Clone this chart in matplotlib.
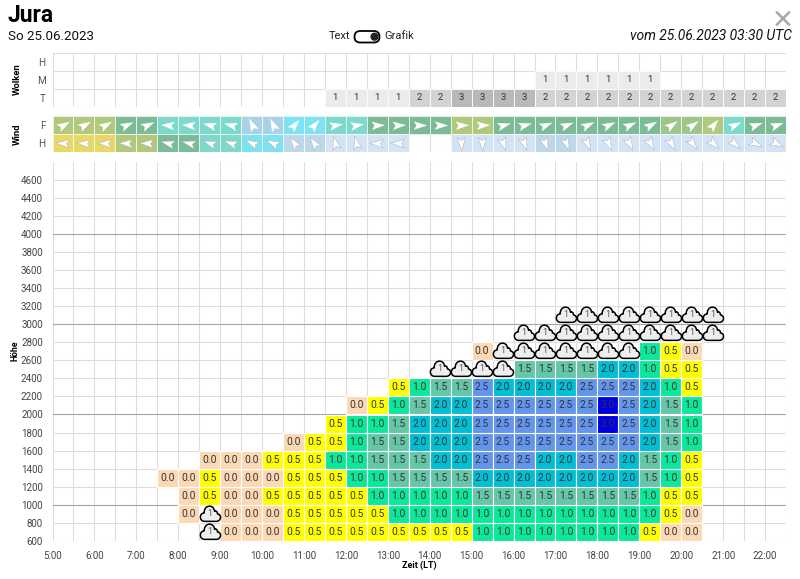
import matplotlib
matplotlib.use("Agg")
import matplotlib.pyplot as plt
from matplotlib.markers import MarkerStyle
from matplotlib.patches import FancyBboxPatch, Circle
from matplotlib.path import Path
from matplotlib.transforms import Affine2D

plt.rcParams['font.family'] = ['Roboto', 'DejaVu Sans']

# half hour columns, col 0 is 5:00-5:30
COL_HOURS = 0.5
START_HOUR = 5
NCOLS = 35
ROW_HEIGHT = 200

# thermik table, per row: first column and values ("c" = cloud symbol)
heights = [600, 800, 1000, 1200, 1400, 1600, 1800, 2000, 2200, 2400, 2600, 2800, 3000]
first_cols = [7, 6, 6, 5, 7, 11, 13, 14, 16, 18, 20, 22, 24]
row_600 = ["c", 0.0, 0.0, 0.0, 0.5, 0.5, 0.5, 0.5, 0.5, 0.5, 0.5, 0.5, 0.5, 1.0, 1.0, 1.0, 1.0, 1.0, 1.0, 1.0, 1.0, 0.5, 0.0, 0.0]
row_800 = [0.0, "c", 0.0, 0.0, 0.0, 0.5, 0.5, 0.5, 0.5, 0.5, 1.0, 1.0, 1.0, 1.0, 1.0, 1.0, 1.0, 1.0, 1.0, 1.0, 1.0, 1.0, 1.0, 0.5, 0.0]
row_1000 = [0.0, 0.5, 0.0, 0.0, 0.5, 0.5, 0.5, 0.5, 0.5, 1.0, 1.0, 1.0, 1.0, 1.0, 1.5, 1.5, 1.5, 1.5, 1.5, 1.5, 1.5, 1.5, 1.0, 0.5, 0.5]
row_1200 = [0.0, 0.0, 0.5, 0.0, 0.0, 0.0, 0.5, 0.5, 0.5, 1.0, 1.0, 1.5, 1.5, 1.5, 1.5, 2.0, 2.0, 2.0, 2.0, 2.0, 2.0, 2.0, 2.0, 1.5, 1.0, 0.5]
row_1400 = [0.0, 0.0, 0.0, 0.5, 0.5, 0.5, 1.0, 1.0, 1.5, 1.5, 1.5, 2.0, 2.0, 2.5, 2.5, 2.5, 2.0, 2.0, 2.5, 2.5, 2.0, 1.5, 1.0, 0.5]
row_1600 = [0.0, 0.5, 0.5, 1.0, 1.5, 1.5, 2.0, 2.0, 2.0, 2.5, 2.5, 2.5, 2.5, 2.5, 2.5, 2.5, 2.5, 2.0, 1.5, 1.0]
row_1800 = [0.5, 1.0, 1.0, 1.5, 2.0, 2.0, 2.0, 2.5, 2.5, 2.5, 2.5, 2.5, 2.5, 3.0, 2.5, 2.0, 1.5, 1.0]
row_2000 = [0.0, 0.5, 1.0, 1.5, 2.0, 2.0, 2.5, 2.5, 2.5, 2.5, 2.5, 2.5, 3.0, 2.5, 2.0, 1.5, 1.0]
row_2200 = [0.5, 1.0, 1.5, 1.5, 2.5, 2.0, 2.0, 2.0, 2.0, 2.5, 2.5, 2.5, 2.0, 1.0, 0.5]
row_2400 = ["c", "c", "c", "c", 1.5, 1.5, 1.5, 1.5, 2.0, 2.0, 1.0, 0.5, 0.5]
row_2600 = [0.0, "c", "c", "c", "c", "c", "c", "c", 1.0, 0.5, 0.0]
row_2800 = ["c", "c", "c", "c", "c", "c", "c", "c", "c", "c"]
row_3000 = ["c", "c", "c", "c", "c", "c", "c", "c"]
rows = [row_600, row_800, row_1000, row_1200, row_1400, row_1600, row_1800,
        row_2000, row_2200, row_2400, row_2600, row_2800, row_3000]

climb_colors = {0.0: "#fcd9b4", 0.5: "#ffff00", 1.0: "#0ce89a", 1.5: "#66c6a8",
                2.0: "#00bfd4", 2.5: "#6495ed", 3.0: "#0000e6"}

# clouds
cloud_labels = ["H", "M", "T"]
cloud_mid_first = 23
cloud_mid = [1, 1, 1, 1, 1, 1]
cloud_low_first = 13
cloud_low = [1, 1, 1, 1, 2, 2, 3, 3, 3, 3, 2, 2, 2, 2, 2, 2, 2, 2, 2, 2, 2, 2]
cloud_colors = {1: "#ebebeb", 2: "#d3d3d3", 3: "#b9b9b9"}

# wind
wind_labels = ["F", "H"]
G = "#7cbb98"; O = "#b1c97c"; T = "#7dd9cc"; C = "#7de3f2"; B = "#a9d1e8"
Y = "#e8d964"; L = "#bcd9ec"; P = "#d2e4f5"
wind_f_colors = [O, O, O, G, G, T, T, T, T, B, B, C, C, T, T, G, G, G, G, O, O,
                 G, G, G, G, G, G, G, G, "#9cc68a", "#9cc68a", O, T, G, G]
wind_f_angles = [30, 30, 30, 25, 25, 175, 175, 165, 165, 115, 115, 50, 50, 10, 10, 3, 3, 0, 0, 2, 2,
                 15, 15, 22, 22, 25, 25, 25, 30, 35, 35, 50, 25, 20, 20]
wind_h_colors = [Y, Y, Y, O, O, G, G, T, T, C, C, L, L, P, P, P, P, None, None,
                 P, P, P, P, L, L, P, P, P, P, P, P, P, P, P, P]
wind_h_angles = [178, 178, 178, 178, 178, 165, 165, 160, 160, 155, 155, 125, 125, 105, 105, 178, 178, None, None,
                 -88, -88, -72, -72, -70, -70, -65, -65, -62, -60, -60, -52, -45, -40, -25, -25]

hour_ticks = list(range(5, 23))
height_ticks = list(range(600, 4801, 200))
major_heights = [1000, 2000, 3000, 4000]


def col_x(col):
    return START_HOUR + col * COL_HOURS


cloud_marker = Path(
    [(-0.55, -0.65), (0.55, -0.65),
     (1.0, -0.65), (1.12, -0.02), (0.66, 0.05),
     (0.66, 0.3), (0.48, 0.4), (0.38, 0.3),
     (0.35, 0.98), (-0.62, 0.98), (-0.6, 0.15),
     (-1.1, 0.12), (-1.08, -0.65), (-0.55, -0.65),
     (-0.55, -0.65)],
    [Path.MOVETO, Path.LINETO,
     Path.CURVE4, Path.CURVE4, Path.CURVE4,
     Path.CURVE4, Path.CURVE4, Path.CURVE4,
     Path.CURVE4, Path.CURVE4, Path.CURVE4,
     Path.CURVE4, Path.CURVE4, Path.CURVE4,
     Path.CLOSEPOLY])
arrow_shape = Path([(1, 0), (-0.75, 0.55), (-0.4, 0), (-0.75, -0.55), (1, 0)],
                   [Path.MOVETO, Path.LINETO, Path.LINETO, Path.LINETO, Path.CLOSEPOLY])

W, H = 800, 579
fig = plt.figure(figsize=(W / 100, H / 100), dpi=100, facecolor="white")


def axes_px(left, top, right, bottom):
    return fig.add_axes([left / W, 1 - bottom / H, (right - left) / W, (bottom - top) / H])


def setup_grid(ax, ylim):
    ax.set_xlim(START_HOUR, col_x(NCOLS))
    ax.set_ylim(*ylim)
    ax.set_xticks([col_x(c) for c in range(NCOLS + 1)])
    ax.tick_params(length=0)
    ax.grid(True, color="#dddddd", linewidth=0.75)
    ax.set_axisbelow(True)
    for s in ax.spines.values():
        s.set_visible(False)


def row_labels(ax, labels):
    ax.set_yticks([i + 0.5 for i in range(len(labels))])
    ax.set_yticklabels(labels[::-1], fontsize=7.2, color="#555555")
    ax.yaxis.grid(False)
    ax.tick_params(axis="y", pad=5)
    for i in range(len(labels) + 1):
        ax.axhline(i, color="#dddddd", linewidth=0.75, zorder=0)


# wolken
ax_c = axes_px(52.5, 52.5, 786, 106.5)
setup_grid(ax_c, (0, 3))
ax_c.set_xticklabels([])
row_labels(ax_c, cloud_labels)
for y, first, vals in [(1, cloud_mid_first, cloud_mid), (0, cloud_low_first, cloud_low)]:
    xs = [col_x(first + i) for i in range(len(vals))]
    ax_c.bar(xs, [1] * len(vals), width=COL_HOURS, bottom=y, align="edge",
             color=[cloud_colors[v] for v in vals], edgecolor="white", linewidth=0.6, zorder=2)
    for x, v in zip(xs, vals):
        ax_c.text(x + COL_HOURS / 2, y + 0.5, str(v), ha="center", va="center",
                  fontsize=6.8, color="#333333", zorder=3)

# wind
ax_w = axes_px(52.5, 116, 786, 152)
setup_grid(ax_w, (0, 2))
ax_w.set_xticklabels([])
row_labels(ax_w, wind_labels)
for y, colors, angles, edge in [(1, wind_f_colors, wind_f_angles, "none"),
                                (0, wind_h_colors, wind_h_angles, "#b5b5b5")]:
    for i, (col, ang) in enumerate(zip(colors, angles)):
        if col is None:
            continue
        ax_w.bar(col_x(i), 1, width=COL_HOURS, bottom=y, align="edge", color=col,
                 edgecolor="white", linewidth=0.5, zorder=2)
        m = MarkerStyle(arrow_shape, transform=Affine2D().rotate_deg(ang))
        ax_w.plot(col_x(i) + COL_HOURS / 2, y + 0.5, marker=m, ms=11, mfc="white",
                  mec=edge, mew=0.4, ls="none", zorder=3)

# thermik
ax = axes_px(52.5, 161.5, 786, 541)
setup_grid(ax, (600, 4800))
ax.set_yticks(height_ticks)
ax.set_yticklabels([str(h) if h < 4800 else "" for h in height_ticks], fontsize=7, color="#444444")
ax.tick_params(axis="y", pad=7)
ax.set_xticks(hour_ticks)
ax.set_xticklabels(["%d:00" % h for h in hour_ticks], fontsize=7, color="#444444")
ax.set_xticks([col_x(c) for c in range(NCOLS + 1)], minor=True)
ax.tick_params(axis="x", which="both", length=0, pad=7)
ax.grid(True, which="both", color="#dddddd", linewidth=0.75)
for h in major_heights:
    ax.axhline(h, color="#a8a8a8", linewidth=0.8, zorder=1)

for h, first, vals in zip(heights, first_cols, rows):
    for i, v in enumerate(vals):
        x = col_x(first + i)
        xc = x + COL_HOURS / 2
        yc = h + ROW_HEIGHT / 2
        if v == "c":
            ax.scatter([xc], [yc], marker=cloud_marker, s=290, facecolor="#eeeeee",
                       edgecolor="black", linewidth=1.1, zorder=4, clip_on=False)
            ax.text(xc, yc + 5, "1", ha="center", va="center", fontsize=6.3, color="#555555", zorder=5)
        else:
            ax.bar(x, ROW_HEIGHT, width=COL_HOURS, bottom=h, align="edge", color=climb_colors[v],
                   edgecolor="white", linewidth=0.8, zorder=2)
            ax.text(xc, yc, "%.1f" % v, ha="center", va="center", fontsize=7.4,
                    color="#333333", zorder=3)

# header overlay in pixel coordinates
top = fig.add_axes([0, 0, 1, 1], zorder=-1)
top.set_xlim(0, W)
top.set_ylim(H, 0)
top.axis("off")
top.text(8, 15, "Jura", fontsize=16.5, fontweight="bold", va="center", color="black")
top.text(8, 36, "So 25.06.2023", fontsize=9.6, va="center", color="#111111")
top.text(792, 36, "vom 25.06.2023 03:30 UTC", fontsize=10, style="italic", ha="right", va="center", color="#111111")
top.text(329, 36, "Text", fontsize=8, va="center", color="#222222")
top.text(384, 36, "Grafik", fontsize=8, va="center", color="#222222")
top.add_patch(FancyBboxPatch((354.5, 31), 25, 11.5, boxstyle="round,pad=0,rounding_size=5.7",
                             facecolor="white", edgecolor="black", linewidth=1.3))
top.add_patch(Circle((374.5, 36.7), 3.4, color="#222222"))
top.plot([777, 789], [12.5, 24.5], color="#a8a8a8", lw=1.8)
top.plot([789, 777], [12.5, 24.5], color="#a8a8a8", lw=1.8)
top.text(17, 79, "Wolken", fontsize=6.8, fontweight="bold", rotation=90, ha="center", va="center")
top.text(17, 134, "Wind", fontsize=6.8, fontweight="bold", rotation=90, ha="center", va="center")
top.text(15.5, 351, "Höhe", fontsize=6.3, fontweight="bold", rotation=90, ha="center", va="center")
top.text(419, 565, "Zeit (LT)", fontsize=6.5, fontweight="bold", ha="center", va="center")

fig.savefig("out.png", dpi=100)
